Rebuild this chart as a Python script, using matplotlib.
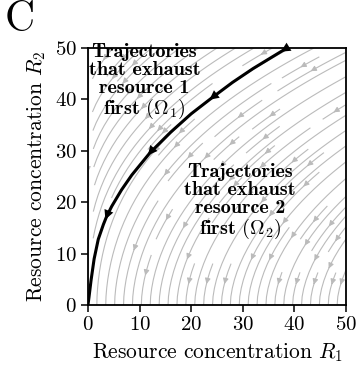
import matplotlib
matplotlib.use("Agg")
import matplotlib.pyplot as plt
import numpy as np

plt.rcParams['font.family'] = 'serif'
plt.rcParams['font.serif'] = ['cmr10']
plt.rcParams['mathtext.fontset'] = 'cm'
plt.rcParams['axes.unicode_minus'] = False
plt.rcParams['axes.formatter.use_mathtext'] = True

# separatrix (trajectory into the origin)
sep_R1 = [0.0, 0.2, 0.6, 1.2, 2.0, 3.0, 3.6, 4.6, 6.5, 8.5, 12.0,
          16.0, 20.0, 24.0, 28.0, 32.0, 37.9]
sep_R2 = [0.0, 1.5, 4.8, 9.0, 12.8, 15.7, 17.2, 19.2, 22.4, 25.3, 29.6,
          33.6, 37.2, 40.3, 43.3, 46.0, 49.6]
arrow_idx = [6, 10, 13, 16]  # separatrix points carrying an arrow head

# consumption model for the background flow: dR1/dt = -R1^a R2^b, dR2/dt = -A
alpha, beta, A = 0.35, 0.75, 37.0

r1 = np.linspace(0, 50, 200)
r2 = np.linspace(0, 50, 200)
R1, R2 = np.meshgrid(r1, r2)
U = -(R1 ** alpha) * (R2 ** beta)
V = -A * np.ones_like(R1)

fig = plt.figure(figsize=(3.56, 3.69), dpi=100)
ax = fig.add_axes([0.247, 0.173, 0.725, 0.697])

ax.streamplot(R1, R2, U, V, density=1.0, color='#bbbbbb', linewidth=0.8,
              arrowsize=0.8, arrowstyle='-|>')

ax.plot(sep_R1, sep_R2, color='black', lw=2.2, zorder=5, clip_on=True)
for i in arrow_idx:
    x0, y0 = sep_R1[i], sep_R2[i]
    dx, dy = sep_R1[i - 1] - x0, sep_R2[i - 1] - y0
    d = np.hypot(dx, dy)
    ax.annotate('', xy=(x0 + dx / d * 0.6, y0 + dy / d * 0.6),
                xytext=(x0 - dx / d * 0.6, y0 - dy / d * 0.6),
                arrowprops=dict(arrowstyle='-|>', color='black', lw=0,
                                mutation_scale=17, shrinkA=0, shrinkB=0),
                zorder=6, annotation_clip=False)

ax.text(10.95, 43.3, 'Trajectories\nthat exhaust\nresource 1\nfirst $(\\Omega_1)$',
        ha='center', va='center', fontsize=14.5, family='cmb10',
        linespacing=1.0, zorder=7)
ax.text(29.4, 20.1, 'Trajectories\nthat exhaust\nresource 2\nfirst $(\\Omega_2)$',
        ha='center', va='center', fontsize=14.5, family='cmb10',
        linespacing=1.0, zorder=7)

ax.set_xlim(0, 50)
ax.set_ylim(0, 50)
ax.set_xticks([0, 10, 20, 30, 40, 50])
ax.set_yticks([0, 10, 20, 30, 40, 50])
ax.tick_params(direction='out', length=5, width=1.1, labelsize=15, pad=3)
for s in ax.spines.values():
    s.set_linewidth(1.3)
ax.set_xlabel('Resource concentration $R_1$', fontsize=15.5, labelpad=5)
ax.set_ylabel('Resource concentration $R_2$', fontsize=15.5, labelpad=5)

fig.text(0.012, 0.995, 'C', fontsize=30, va='top', ha='left')

fig.savefig('out.png', dpi=100)
